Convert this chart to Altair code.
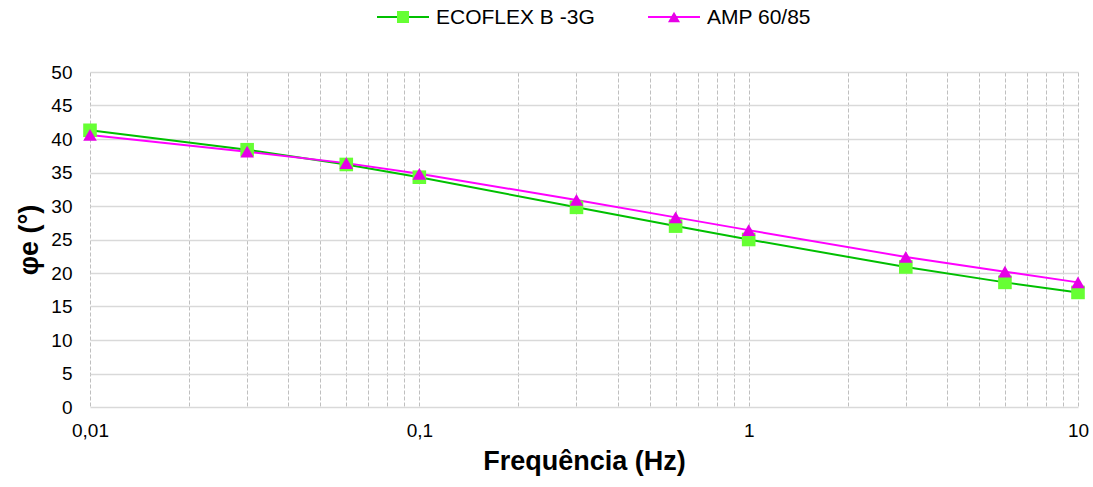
import altair as alt
import pandas as pd

freq = [0.01, 0.03, 0.06, 0.1, 0.3, 0.6, 1, 3, 6, 10]
series_names = ["ECOFLEX B -3G", "AMP 60/85"]
ecoflex = [41.3, 38.4, 36.2, 34.3, 29.8, 27.0, 25.0, 20.9, 18.6, 17.1]
amp = [40.6, 38.1, 36.4, 34.8, 30.9, 28.3, 26.4, 22.4, 20.2, 18.6]
line_colors = ["#00C000", "#FF00FF"]
marker_colors = ["#66FF33", "#E600E6"]
shapes = ["square", "triangle-up"]
y_ticks = list(range(0, 51, 5))
x_grid = [m * d for d in [0.01, 0.1, 1] for m in range(1, 10)] + [10]
x_grid = [round(v, 4) for v in x_grid]
legend_marker_x = [313, 584]

df = pd.DataFrame({
    "freq": freq * 2,
    "phi": ecoflex + amp,
    "series": [series_names[0]] * len(freq) + [series_names[1]] * len(freq),
})
legend_df = pd.DataFrame({"series": series_names})

FONT = "Liberation Sans"

label_expr = ("datum.value == 0.01 ? '0,01' : datum.value == 0.1 ? '0,1' : "
              "datum.value == 1 ? '1' : datum.value == 10 ? '10' : ''")

x_axis = alt.Axis(values=x_grid, labelExpr=label_expr, grid=True,
                  gridDash=[4, 2], gridColor="#BFBFBF", gridWidth=1,
                  domain=False, ticks=False, labelFontSize=19,
                  labelFont=FONT, labelColor="#000000", labelPadding=14,
                  labelFlush=False, labelOverlap=False,
                  title="Frequência (Hz)", titleFont=FONT,
                  titleFontSize=27, titleFontWeight="bold",
                  titleColor="#000000", titlePadding=8)
y_axis = alt.Axis(values=y_ticks, grid=True, gridColor="#D9D9D9",
                  gridWidth=1.5, domain=False, ticks=False,
                  labelFontSize=19, labelFont=FONT, labelColor="#000000",
                  labelPadding=18, labelOverlap=False, title="φe (°)", titleFont=FONT,
                  titleFontSize=27, titleFontWeight="bold",
                  titleColor="#000000", titlePadding=7)
x_scale = alt.Scale(type="log", domain=[0.01, 10], nice=False)
y_scale = alt.Scale(domain=[0, 50], nice=False)

color_scale = alt.Scale(domain=series_names, range=line_colors)
fill_scale = alt.Scale(domain=series_names, range=marker_colors)
shape_scale = alt.Scale(domain=series_names, range=shapes)

base = alt.Chart(df)
lines = base.mark_line(strokeWidth=2, clip=False).encode(
    x=alt.X("freq:Q", scale=x_scale, axis=x_axis),
    y=alt.Y("phi:Q", scale=y_scale, axis=y_axis),
    color=alt.Color("series:N", scale=color_scale, legend=None),
    order=alt.Order("freq:Q"),
)
pts = base.mark_point(filled=True, size=185, opacity=1, clip=False).encode(
    x=alt.X("freq:Q", scale=x_scale, axis=x_axis),
    y=alt.Y("phi:Q", scale=y_scale, axis=y_axis),
    fill=alt.Fill("series:N", scale=fill_scale, legend=None),
    shape=alt.Shape("series:N", scale=shape_scale, legend=None),
)

# manual legend above the plot
leg_layers = []
for i, name in enumerate(series_names):
    lb = alt.Chart(legend_df).transform_filter(alt.datum.series == name)
    mx = legend_marker_x[i]
    leg_layers.append(lb.mark_rule(strokeWidth=2, color=line_colors[i]).encode(
        x=alt.value(mx - 26), x2=alt.value(mx + 26), y=alt.value(-55)))
    leg_layers.append(lb.mark_point(filled=True, size=145, opacity=1,
                                    shape=shapes[i], color=marker_colors[i]).encode(
        x=alt.value(mx), y=alt.value(-55)))
    leg_layers.append(lb.mark_text(align="left", baseline="middle", fontSize=21,
                                   font=FONT, color="#000000").encode(
        x=alt.value(mx + 33), y=alt.value(-54), text="series:N"))

chart = alt.layer(lines, pts, *leg_layers).properties(
    width=988, height=335,
    autosize=alt.AutoSizeParams(type="none"),
    padding={"left": 90, "top": 72, "right": 15, "bottom": 80},
    background="#FFFFFF",
).configure_view(stroke=None)

chart.save("out.html", embed_options={"renderer": "svg", "actions": False})
